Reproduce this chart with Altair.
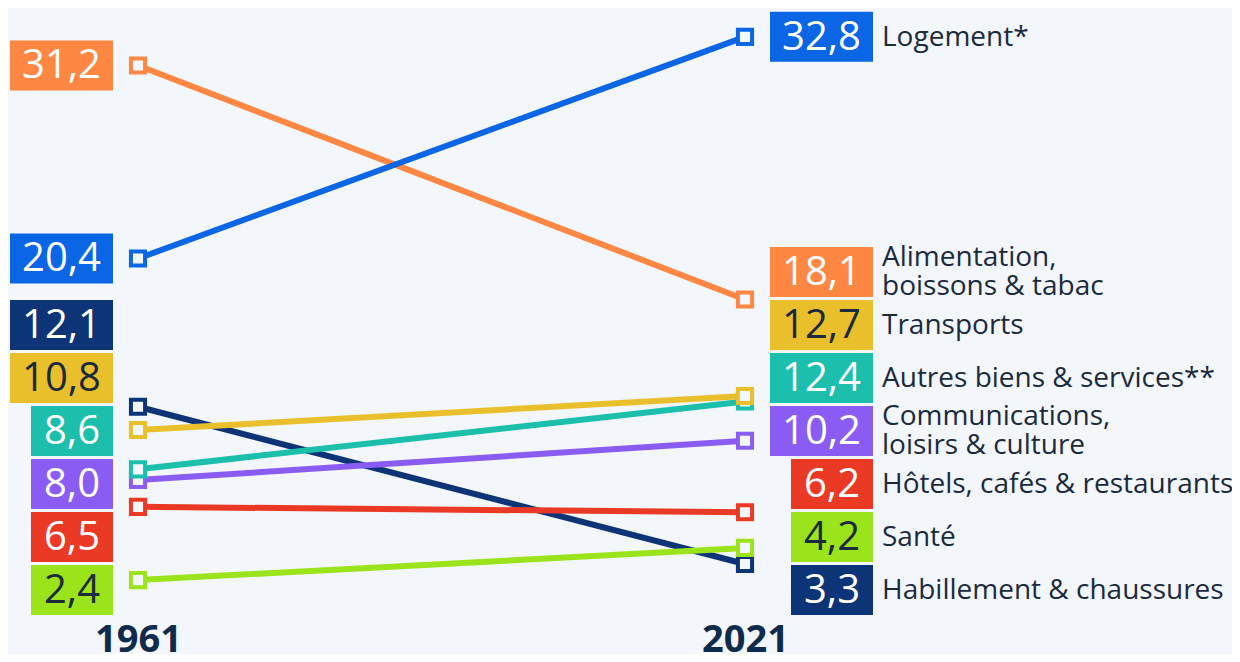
import altair as alt
import pandas as pd

# ---------------- data ----------------
categories = [
    "Logement*",
    "Alimentation,\nboissons & tabac",
    "Transports",
    "Autres biens & services**",
    "Communications,\nloisirs & culture",
    "Hôtels, cafés & restaurants",
    "Santé",
    "Habillement & chaussures",
]
years = [1961, 2021]
v1961 = [20.4, 31.2, 10.8, 8.6, 8.0, 6.5, 2.4, 12.1]
v2021 = [32.8, 18.1, 12.7, 12.4, 10.2, 6.2, 4.2, 3.3]
colors = ["#0a66e4", "#ff8744", "#e9c02c", "#1cbeac", "#8b5cf3", "#ea3a26", "#9be31a", "#0e3478"]
dark_text_cats = ["Transports", "Santé"]

# ---------------- layout ----------------
BG = "#f3f6fa"
DARK = "#1b2a3d"
W, H = 1224, 615
KX = 607 / 60.0      # px per year
KY = 17.87           # px per unit
X0 = 1961 - 130 / KX
X1 = X0 + W / KX
Y1 = H / KY
GAP = 53 / KY
FLOOR = (615 - 582) / KY
HALF = 25 / KY


def dodge(vals, gap, floor):
    order = sorted(range(len(vals)), key=lambda i: -vals[i])
    pos = {}
    prev = None
    for i in order:
        p = vals[i] if prev is None else min(vals[i], prev - gap)
        pos[i] = p
        prev = p
    nxt = None
    for i in reversed(order):
        p = max(pos[i], floor) if nxt is None else max(pos[i], nxt + gap)
        pos[i] = p
        nxt = p
    return [pos[i] for i in range(len(vals))]


def fmt(v):
    return f"{v:.1f}".replace(".", ",")


rows = []
for year, vals in zip(years, [v1961, v2021]):
    labs = dodge(vals, GAP, FLOOR)
    for i in reversed(range(len(categories))):
        txt = fmt(vals[i])
        w = (21 * len(txt) + 19) / KX
        if year == years[0]:
            bx1 = year - 25 / KX
        else:
            bx1 = year + 128 / KX
        bx0 = bx1 - w
        rows.append(dict(cat=categories[i], year=year, value=vals[i], txt=txt,
                         lab=labs[i], by0=labs[i] - HALF, by1=labs[i] + HALF,
                         bx0=bx0, bx1=bx1, bxc=(bx0 + bx1) / 2,
                         multi=("\n" in categories[i])))
df = pd.DataFrame(rows)

xs = alt.Scale(domain=[X0, X1], nice=False, zero=False)
ys = alt.Scale(domain=[0, Y1], nice=False, zero=False)
cs = alt.Scale(domain=categories, range=colors)

base = alt.Chart(df)

lines = base.mark_line(strokeWidth=6).encode(
    x=alt.X("year:Q", scale=xs,
            axis=alt.Axis(values=years, format="d", title=None, domain=False, ticks=False,
                          grid=False, labelFontSize=38, labelFontWeight="bold",
                          labelFont="Open Sans", labelColor="#0f2b4b",
                          labelBaseline="alphabetic", labelPadding=28)),
    y=alt.Y("value:Q", scale=ys, axis=None),
    color=alt.Color("cat:N", scale=cs, legend=None),
    detail="cat:N",
)

points = base.mark_point(shape="square", filled=False, fill=BG, fillOpacity=1,
                         strokeWidth=4, size=200, opacity=1).encode(
    x=alt.X("year:Q", scale=xs),
    y=alt.Y("value:Q", scale=ys),
    stroke=alt.Stroke("cat:N", scale=cs, legend=None),
)

boxes = base.mark_rect().encode(
    x=alt.X("bx0:Q", scale=xs), x2="bx1:Q",
    y=alt.Y("by0:Q", scale=ys), y2="by1:Q",
    color=alt.Color("cat:N", scale=cs, legend=None),
)

box_text = base.mark_text(font="Open Sans", fontSize=40, align="center",
                          baseline="middle", dy=1).encode(
    x=alt.X("bxc:Q", scale=xs),
    y=alt.Y("lab:Q", scale=ys),
    text="txt:N",
    color=alt.condition(alt.FieldOneOfPredicate(field="cat", oneOf=dark_text_cats),
                        alt.value(DARK), alt.value("white")),
)

right = base.transform_filter(alt.datum.year == years[1])
cat_enc = dict(x=alt.X("year:Q", scale=xs), y=alt.Y("lab:Q", scale=ys), text="cat:N")
cat_text1 = right.transform_filter("!datum.multi").mark_text(
    font="Open Sans", fontSize=28, align="left", baseline="middle",
    dx=137, dy=1, color=DARK).encode(**cat_enc)
cat_text2 = right.transform_filter("datum.multi").mark_text(
    font="Open Sans", fontSize=28, align="left", baseline="middle",
    dx=137, dy=-14, lineBreak="\n", lineHeight=29, color=DARK).encode(**cat_enc)

chart = alt.layer(lines, points, boxes, box_text, cat_text1, cat_text2).properties(
    width=W, height=H, autosize="none", background=BG,
    padding={"left": 0, "top": 0, "right": 0, "bottom": 31},
).configure_view(stroke=None)

chart.save("out.html", embed_options={"renderer": "svg", "actions": False})
